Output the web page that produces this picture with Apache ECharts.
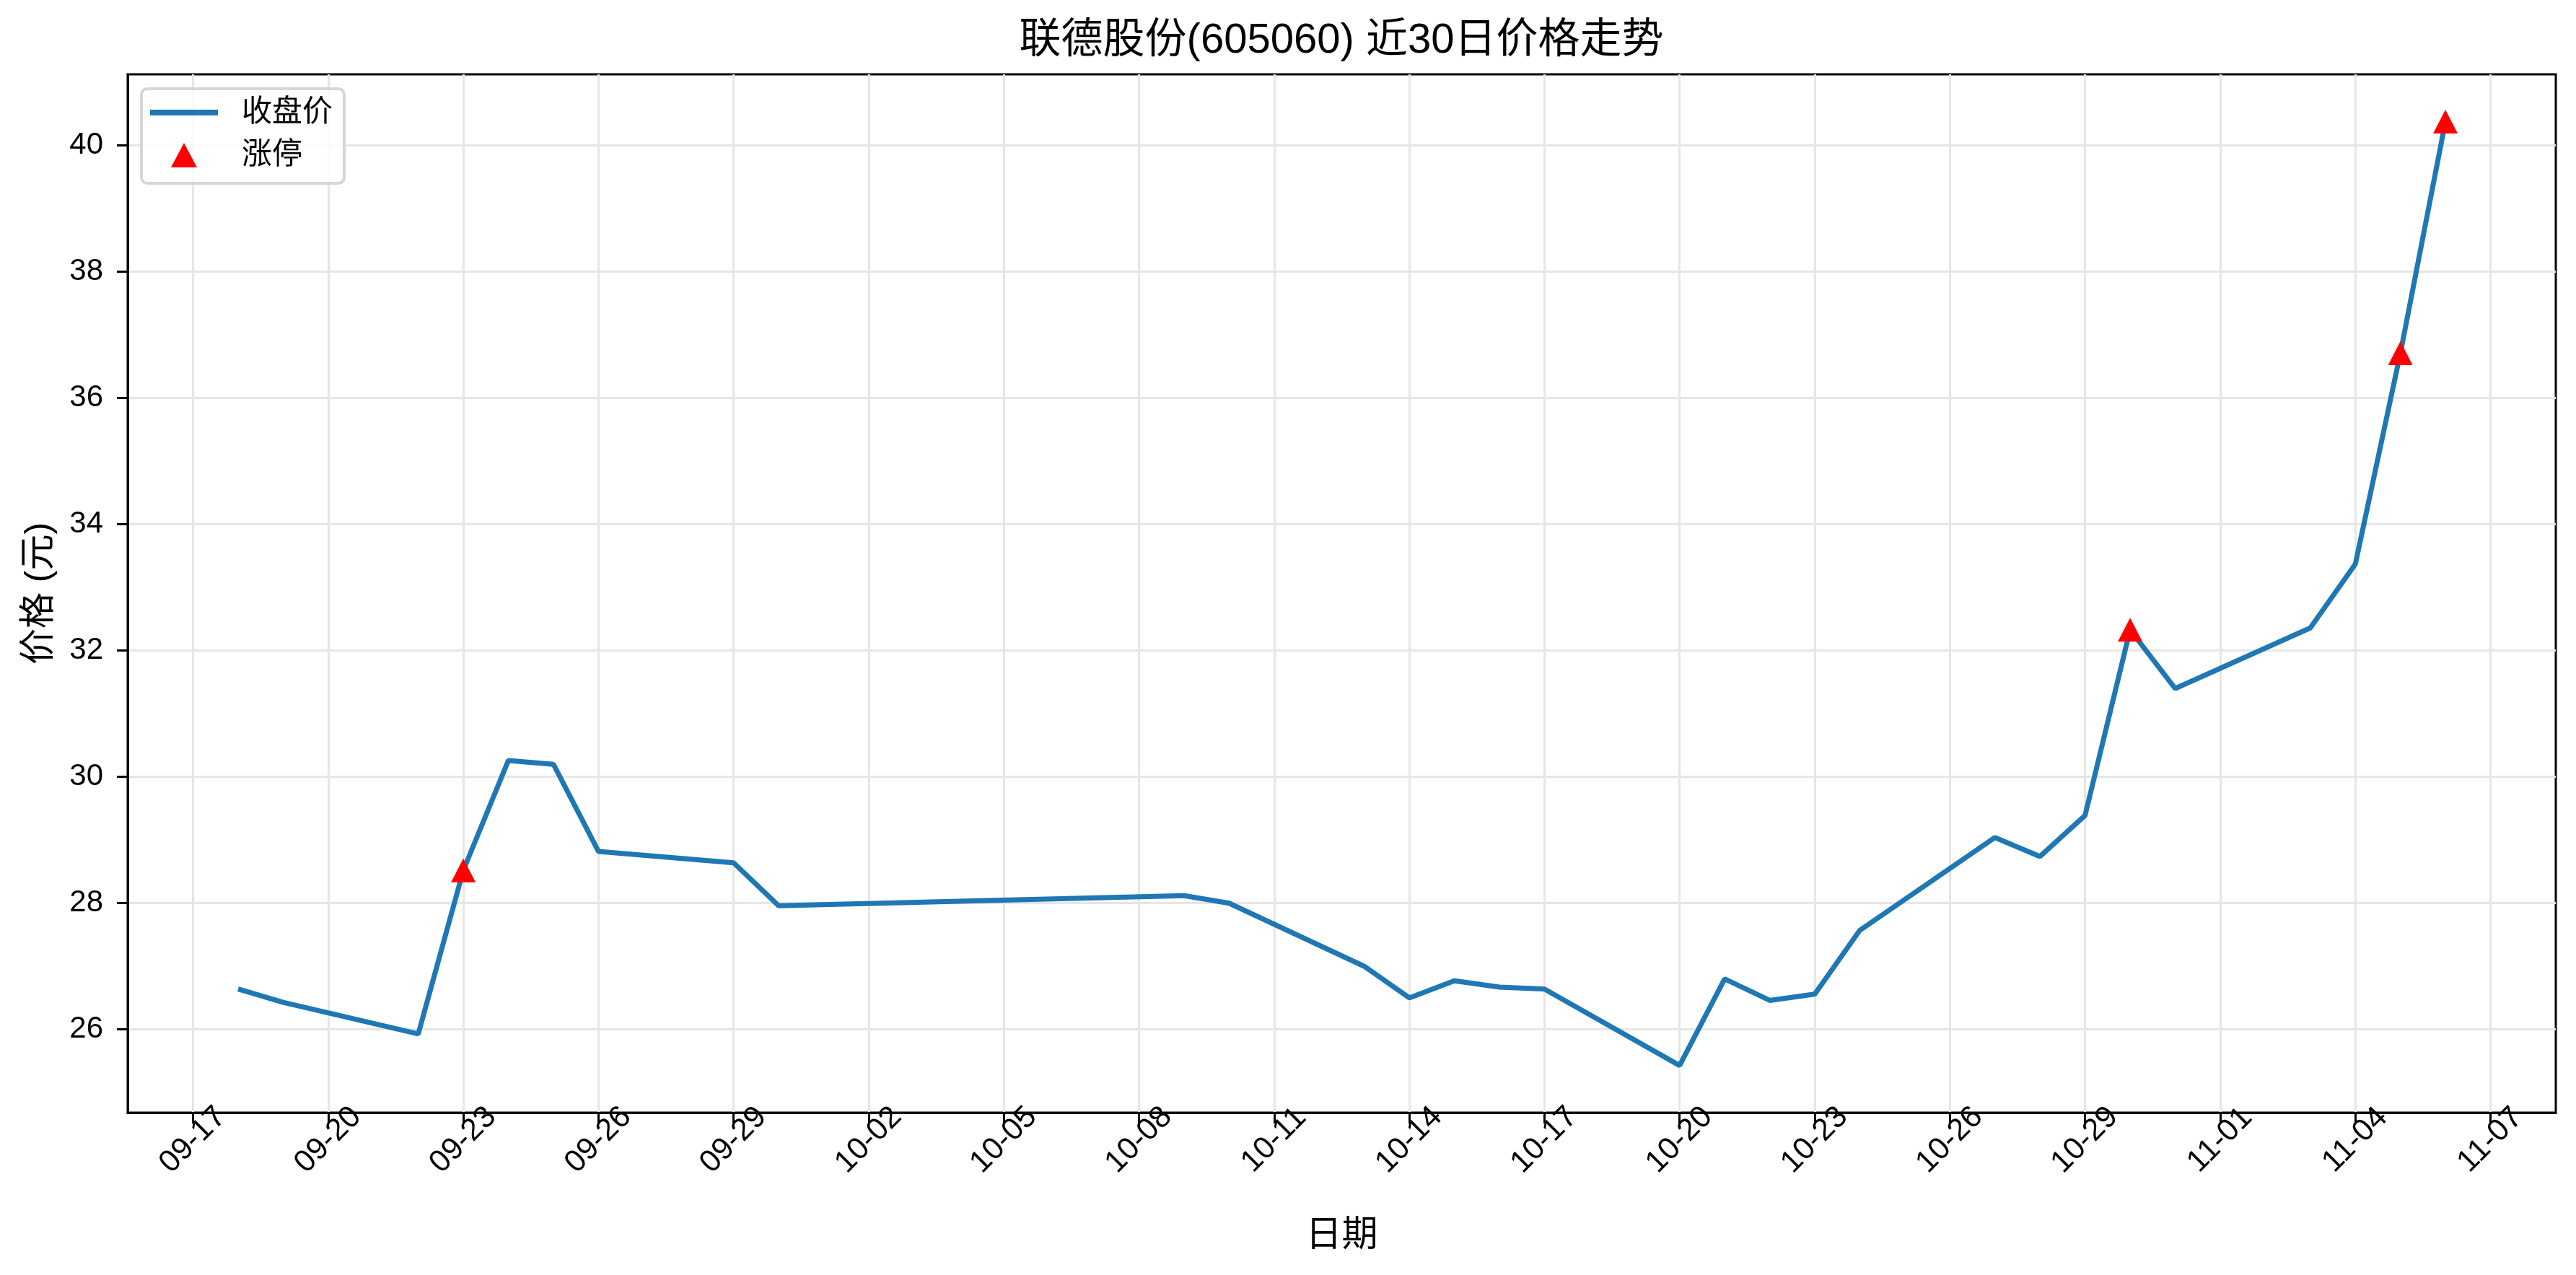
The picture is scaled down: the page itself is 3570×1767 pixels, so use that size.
<!DOCTYPE html>
<html>
<head>
<meta charset="utf-8">
<title>联德股份(605060) 近30日价格走势</title>
<script src="https://cdn.jsdelivr.net/npm/echarts@6/dist/echarts.min.js"></script>
<style>
  html, body { margin: 0; padding: 0; background: #fff; }
  #chart { width: 3570px; height: 1767px; }
</style>
</head>
<body>
<div id="chart"></div>
<script>
// trading days and close prices
const dates = [
  "2025-09-18", "2025-09-19", "2025-09-22", "2025-09-23", "2025-09-24", "2025-09-25",
  "2025-09-26", "2025-09-29", "2025-09-30", "2025-10-09", "2025-10-10", "2025-10-13",
  "2025-10-14", "2025-10-15", "2025-10-16", "2025-10-17", "2025-10-20", "2025-10-21",
  "2025-10-22", "2025-10-23", "2025-10-24", "2025-10-27", "2025-10-28", "2025-10-29",
  "2025-10-30", "2025-10-31", "2025-11-03", "2025-11-04", "2025-11-05", "2025-11-06"
];
const closes = [
  26.64, 26.43, 25.93, 28.52, 30.26, 30.20,
  28.82, 28.64, 27.96, 28.12, 28.00, 27.00,
  26.50, 26.77, 26.67, 26.64, 25.43, 26.80,
  26.46, 26.56, 27.57, 29.04, 28.74, 29.39,
  32.33, 31.40, 32.36, 33.37, 36.71, 40.38
];
const limitUpDates = ["2025-09-23", "2025-10-30", "2025-11-05", "2025-11-06"];

const xTicks = [
  "2025-09-17", "2025-09-20", "2025-09-23", "2025-09-26", "2025-09-29", "2025-10-02",
  "2025-10-05", "2025-10-08", "2025-10-11", "2025-10-14", "2025-10-17", "2025-10-20",
  "2025-10-23", "2025-10-26", "2025-10-29", "2025-11-01", "2025-11-04", "2025-11-07"
];
const yTicks = [26, 28, 30, 32, 34, 36, 38, 40];

const t = s => new Date(s + "T00:00:00").getTime();

const lineData = dates.map((d, i) => [t(d), closes[i]]);
const limitData = limitUpDates.map(d => [t(d), closes[dates.indexOf(d)]]);

// 5% margins like the source plot
const xFirst = t(dates[0]), xLast = t(dates[dates.length - 1]);
const xPad = (xLast - xFirst) * 0.05;
const yLo = Math.min(...closes), yHi = Math.max(...closes);
const yPad = (yHi - yLo) * 0.05;

const font = "'Liberation Sans', 'Noto Sans CJK SC', sans-serif";

let myChart = echarts.init(document.getElementById("chart"));
let option = {
  animation: false,
  backgroundColor: "#fff",
  textStyle: { fontFamily: font, color: "#000" },
  title: {
    text: "联德股份(605060) 近30日价格走势",
    left: 1859,
    top: 57,
    padding: 0,
    textAlign: "center",
    textVerticalAlign: "middle",
    textStyle: { fontFamily: font, fontSize: 58, fontWeight: "normal", color: "#000" }
  },
  legend: {
    left: 196,
    top: 123,
    orient: "vertical",
    padding: [12, 16, 18, 12],
    itemWidth: 94,
    itemHeight: 34,
    itemGap: 17,
    borderColor: "#d6d6d6",
    borderWidth: 4,
    borderRadius: 8,
    backgroundColor: "rgba(255,255,255,0.8)",
    textStyle: { fontFamily: font, fontSize: 42, color: "#000", padding: [0, 0, 0, 28] },
    data: [
      { name: "收盘价", icon: "path://M0,0L94,0L94,8L0,8Z" },
      { name: "涨停", icon: "path://M17.5,0L35,33L0,33Z" }
    ]
  },
  grid: {
    left: 177,
    right: 28,
    top: 103,
    bottom: 225,
    show: true,
    borderColor: "#000",
    borderWidth: 3,
    backgroundColor: "transparent"
  },
  xAxis: {
    type: "time",
    min: xFirst - xPad,
    max: xLast + xPad,
    name: "日期",
    nameLocation: "middle",
    nameGap: 146,
    nameTextStyle: { fontFamily: font, fontSize: 50, color: "#000" },
    axisLine: { show: true, lineStyle: { color: "#000", width: 3 } },
    axisTick: {
      show: true, length: 15, inside: false,
      lineStyle: { color: "#000", width: 3 },
      customValues: xTicks.map(t)
    },
    axisLabel: {
      customValues: xTicks.map(t),
      rotate: 45,
      align: "center",
      verticalAlign: "middle",
      margin: 38,
      fontSize: 43,
      fontFamily: font,
      color: "#000",
      formatter: "{MM}-{dd}"
    },
    splitLine: { show: true, lineStyle: { color: "#e6e6e6", width: 3 } }
  },
  yAxis: {
    type: "value",
    min: yLo - yPad,
    max: yHi + yPad,
    name: "价格 (元)",
    nameLocation: "middle",
    nameGap: 97,
    nameRotate: 90,
    nameTextStyle: { fontFamily: font, fontSize: 50, color: "#000" },
    axisLine: { show: true, lineStyle: { color: "#000", width: 3 } },
    axisTick: {
      show: true, length: 15, inside: false,
      lineStyle: { color: "#000", width: 3 },
      customValues: yTicks
    },
    axisLabel: {
      customValues: yTicks,
      margin: 34,
      fontSize: 42,
      fontFamily: font,
      color: "#000"
    },
    splitLine: { show: true, lineStyle: { color: "#e6e6e6", width: 3 } }
  },
  series: [
    {
      name: "收盘价",
      type: "line",
      data: lineData,
      symbol: "none",
      smooth: false,
      lineStyle: { color: "#1f77b4", width: 7 },
      itemStyle: { color: "#1f77b4" },
      z: 2
    },
    {
      name: "涨停",
      type: "scatter",
      data: limitData,
      symbol: "triangle",
      symbolSize: [34, 33],
      itemStyle: { color: "#ff0000", opacity: 1 },
      z: 3
    }
  ]
};
option && myChart.setOption(option);
</script>
</body>
</html>
